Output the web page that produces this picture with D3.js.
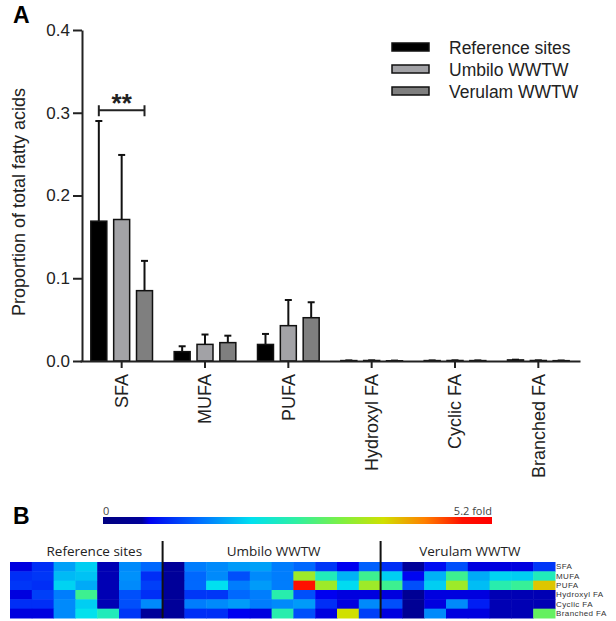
<!DOCTYPE html>
<html>
<head>
<meta charset="utf-8">
<script src="https://cdn.jsdelivr.net/npm/d3@7"></script>
<style>
body { margin: 0; background: #fff; }
text { font-family: 'Liberation Sans', Arial, sans-serif; }
</style>
</head>
<body>
<script>
// panel A data
var categories = ['SFA', 'MUFA', 'PUFA', 'Hydroxyl FA', 'Cyclic FA', 'Branched FA'];
var series = ['Reference sites', 'Umbilo WWTW', 'Verulam WWTW'];
var refMean = [0.169, 0.0113, 0.020, 0.0005, 0.0005, 0.0013];
var refSD   = [0.121, 0.0065, 0.0127, 0.0002, 0.0002, 0.0003];
var umbMean = [0.171, 0.0201, 0.0427, 0.0006, 0.0006, 0.0006];
var umbSD   = [0.078, 0.0119, 0.031, 0.0002, 0.0002, 0.0002];
var verMean = [0.085, 0.0222, 0.0523, 0.0003, 0.0005, 0.0004];
var verSD   = [0.036, 0.0084, 0.0187, 0.0002, 0.0002, 0.0002];
var yTicks = [0, 0.1, 0.2, 0.3, 0.4];
var barFill = ['#000000', '#a2a2a6', '#7f7f7f'];

// panel B data (fold change, 0 - 5.2), columns: 7 reference, 10 Umbilo, 8 Verulam
var heatRows = ['SFA', 'MUFA', 'PUFA', 'Hydroxyl FA', 'Cyclic FA', 'Branched FA'];
var groupNames = ['Reference sites', 'Umbilo WWTW', 'Verulam WWTW'];
var groupSizes = [7, 10, 8];
var sfaFold      = [0.6, 0.9, 1.6, 1.87, 0.55, 1.46, 1.25,  0.5, 1.38, 1.46, 1.56, 1.6, 1.38, 1.25, 0.95, 0.62, 1.2,  0.9, 0.5, 0.7, 1.1, 0.6, 0.6, 0.6, 0.95];
var mufaFold     = [0.9, 0.95, 1.75, 1.8, 0.55, 1.5, 0.9,  0.5, 1.25, 1.46, 1.1, 1.46, 1.38, 3.4, 2.4, 1.7, 2.7,  1.87, 0.65, 1.7, 2.7, 1.66, 1.9, 1.87, 2.4];
var pufaFold     = [0.95, 0.9, 1.9, 1.65, 0.55, 1.46, 1.0,  0.5, 1.25, 1.98, 1.38, 1.56, 1.38, 4.8, 3.4, 1.95, 3.4,  2.7, 1.1, 1.87, 3.4, 1.77, 2.5, 2.65, 3.9];
var hydroxylFold = [0.6, 1.0, 1.38, 2.7, 0.55, 1.1, 0.9,  0.5, 0.95, 0.95, 1.25, 1.38, 2.5, 1.1, 0.62, 0.6, 0.6,  0.6, 0.4, 0.6, 0.6, 0.6, 0.55, 0.55, 0.55];
var cyclicFold   = [0.9, 0.9, 1.46, 1.87, 0.55, 1.1, 1.46,  0.5, 1.38, 1.46, 1.56, 1.38, 1.46, 1.56, 0.9, 0.6, 1.46,  1.1, 0.4, 0.6, 1.46, 0.8, 0.55, 0.55, 0.55];
var branchedFold = [0.6, 0.6, 1.46, 2.0, 2.4, 0.95, 0.5,  0.5, 0.9, 0.9, 0.62, 0.6, 2.5, 1.1, 0.6, 3.75, 1.0,  0.6, 0.4, 1.46, 0.6, 0.6, 0.55, 0.55, 3.0];
var heatStops  = [0, 0.52, 0.62, 1.3, 1.98, 2.6, 3.2, 3.75, 4.3, 4.8, 5.2];
var heatColors = ['#000080', '#00009a', '#0000f0', '#0070ff', '#00e0f0', '#30f0a0', '#80f040', '#d0e000', '#ff8000', '#ff1000', '#ff0000'];

var svg = d3.select('body').append('svg')
	.attr('width', 616)
	.attr('height', 621);

// ---------- PANEL A ----------
var y = d3.scaleLinear().domain([0, 0.4]).range([361, 30]);
var x0 = d3.scaleBand().domain(categories).range([80, 580]).paddingInner(0.26).paddingOuter(0.13);
var x1 = d3.scaleBand().domain(series).range([0, x0.bandwidth()]).paddingInner(0.3);

var means = [refMean, umbMean, verMean];
var sds = [refSD, umbSD, verSD];
var barData = [];
categories.forEach(function(c, i) {
	series.forEach(function(s, j) {
		barData.push({cat: c, ser: s, k: j, mean: means[j][i], sd: sds[j][i]});
	});
});

svg.append('text')
	.attr('x', 13).attr('y', 23)
	.style('font-size', '23px').style('font-weight', 'bold')
	.text('A');

// error bars (drawn first so bar covers lower part)
var eb = svg.append('g');
eb.selectAll('line.v').data(barData).enter().append('line')
	.attr('x1', function(d) { return x0(d.cat) + x1(d.ser) + x1.bandwidth() / 2; })
	.attr('x2', function(d) { return x0(d.cat) + x1(d.ser) + x1.bandwidth() / 2; })
	.attr('y1', function(d) { return y(d.mean); })
	.attr('y2', function(d) { return y(d.mean + d.sd); })
	.attr('stroke', '#111').attr('stroke-width', 2);
eb.selectAll('line.c').data(barData).enter().append('line')
	.attr('x1', function(d) { return x0(d.cat) + x1(d.ser) + x1.bandwidth() / 2 - 3.5; })
	.attr('x2', function(d) { return x0(d.cat) + x1(d.ser) + x1.bandwidth() / 2 + 3.5; })
	.attr('y1', function(d) { return y(d.mean + d.sd); })
	.attr('y2', function(d) { return y(d.mean + d.sd); })
	.attr('stroke', '#111').attr('stroke-width', 2);

svg.append('g').selectAll('rect').data(barData).enter().append('rect')
	.attr('x', function(d) { return x0(d.cat) + x1(d.ser); })
	.attr('y', function(d) { return y(d.mean); })
	.attr('width', x1.bandwidth())
	.attr('height', function(d) { return y(0) - y(d.mean); })
	.attr('fill', function(d) { return barFill[d.k]; })
	.attr('stroke', '#111')
	.attr('stroke-width', 1.5);

// axes
var yAxis = svg.append('g')
	.attr('transform', 'translate(82,0)')
	.call(d3.axisLeft(y).tickValues(yTicks).tickFormat(d3.format('.1f')).tickSize(9).tickSizeOuter(0).tickPadding(3));
yAxis.selectAll('path, line').attr('stroke', '#222').attr('stroke-width', 2);
yAxis.selectAll('text').style('font-size', '17px').attr('fill', '#222');

var xAxis = svg.append('g')
	.attr('transform', 'translate(0,361)')
	.call(d3.axisBottom(x0).tickSize(7).tickSizeOuter(0));
xAxis.selectAll('path, line').attr('stroke', '#222').attr('stroke-width', 2);
xAxis.selectAll('text')
	.attr('transform', 'rotate(-90)')
	.attr('text-anchor', 'end')
	.attr('x', -13).attr('y', 0).attr('dy', '0.35em')
	.style('font-size', '18px').attr('fill', '#222');

svg.append('text')
	.attr('transform', 'translate(25,202) rotate(-90)')
	.attr('text-anchor', 'middle')
	.style('font-size', '18px').attr('fill', '#222')
	.text('Proportion of total fatty acids');

// significance bracket
var bx1 = x0('SFA') + x1(series[0]) + x1.bandwidth() / 2;
var bx2 = x0('SFA') + x1(series[2]) + x1.bandwidth() / 2;
var by = y(0.303);
svg.append('path')
	.attr('d', 'M' + bx1 + ',' + (by - 5) + 'V' + (by + 6) + 'M' + bx1 + ',' + by + 'H' + bx2 + 'M' + bx2 + ',' + (by - 5) + 'V' + (by + 6))
	.attr('stroke', '#222').attr('stroke-width', 2).attr('fill', 'none');
svg.append('text')
	.attr('x', (bx1 + bx2) / 2).attr('y', by + 2)
	.attr('text-anchor', 'middle')
	.style('font-size', '26px').style('font-weight', 'bold').attr('fill', '#222')
	.text('**');

// legend
var legend = svg.append('g').selectAll('g').data(series).enter().append('g')
	.attr('transform', function(d, i) { return 'translate(392,' + (43 + i * 22) + ')'; });
legend.append('rect')
	.attr('width', 37).attr('height', 8)
	.attr('fill', function(d, i) { return barFill[i]; })
	.attr('stroke', '#111').attr('stroke-width', 1.5);
legend.append('text')
	.attr('x', 57).attr('y', 11)
	.style('font-size', '17.5px').attr('fill', '#222')
	.text(function(d) { return d; });

// ---------- PANEL B ----------
svg.append('text')
	.attr('x', 13).attr('y', 524)
	.style('font-size', '23px').style('font-weight', 'bold')
	.text('B');

var color = d3.scaleLinear().domain(heatStops).range(heatColors);

// colour bar
var cx = d3.scaleLinear().domain([0, 5.2]).range([103, 492]);
var grad = svg.append('defs').append('linearGradient').attr('id', 'jet');
heatStops.forEach(function(s, i) {
	grad.append('stop').attr('offset', (s / 5.2 * 100) + '%').attr('stop-color', heatColors[i]);
});
svg.append('rect')
	.attr('x', cx(0)).attr('y', 517)
	.attr('width', cx(5.2) - cx(0)).attr('height', 7)
	.attr('fill', 'url(#jet)');
svg.append('text')
	.attr('x', cx(0)).attr('y', 515)
	.style('font-family', 'Open Sans').style('font-size', '11px').attr('fill', '#444')
	.text('0');
svg.append('text')
	.attr('x', cx(5.2)).attr('y', 515)
	.attr('text-anchor', 'end')
	.style('font-family', 'Open Sans').style('font-size', '11px').attr('fill', '#444')
	.text('5.2 fold');

var heatValues = [sfaFold, mufaFold, pufaFold, hydroxylFold, cyclicFold, branchedFold];
var nCols = sfaFold.length;
var hx = d3.scaleBand().domain(d3.range(nCols)).range([10, 555]);
var hy = d3.scaleBand().domain(heatRows).range([562, 618]);

var cells = [];
heatRows.forEach(function(r, i) {
	heatValues[i].forEach(function(v, j) {
		cells.push({row: r, col: j, v: v});
	});
});
svg.append('g').selectAll('rect').data(cells).enter().append('rect')
	.attr('x', function(d) { return hx(d.col); })
	.attr('y', function(d) { return hy(d.row); })
	.attr('width', hx.bandwidth() + 0.5)
	.attr('height', hy.bandwidth() + 0.5)
	.attr('fill', function(d) { return color(d.v); });

// row labels
svg.append('g').selectAll('text').data(heatRows).enter().append('text')
	.attr('x', hx.range()[1] + 1)
	.attr('y', function(d) { return hy(d) + hy.bandwidth() / 2; })
	.attr('dy', '0.35em')
	.style('font-size', '8px').style('letter-spacing', '0.4px').attr('fill', '#333')
	.text(function(d) { return d; });

// group labels and dividers
var start = 0;
groupNames.forEach(function(g, i) {
	var a = hx(start), b = hx(start + groupSizes[i] - 1) + hx.bandwidth();
	svg.append('text')
		.attr('x', (a + b) / 2 + (i === 0 ? 8 : 2)).attr('y', 556)
		.attr('text-anchor', 'middle')
		.style('font-family', 'Open Sans').style('font-size', '13.5px').attr('fill', '#222')
		.text(g);
	if (i > 0) {
		svg.append('line')
			.attr('x1', a).attr('x2', a)
			.attr('y1', 541).attr('y2', 618)
			.attr('stroke', '#111').attr('stroke-width', 2);
	}
	start += groupSizes[i];
});
</script>
</body>
</html>
